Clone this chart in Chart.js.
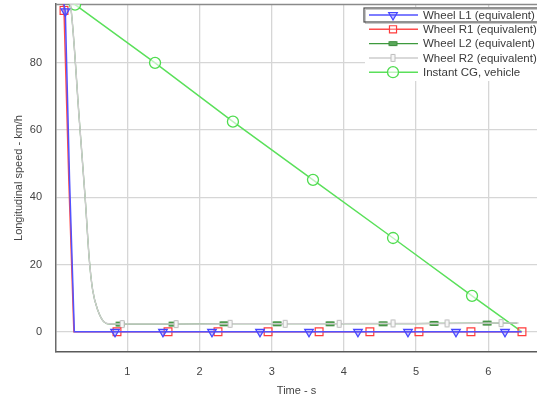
<!DOCTYPE html>
<html>
<head>
<meta charset="utf-8">
<script src="https://cdn.jsdelivr.net/npm/chart.js@4/dist/chart.umd.min.js"></script>
<style>
  html, body { margin: 0; padding: 0; background: #fff; }
  #wrap { width: 537px; height: 400px; }
</style>
</head>
<body>
<div id="wrap"><canvas id="chart" width="537" height="400"></canvas></div>
<script>
// series (time in s, speed in km/h); 1 = draw a marker on that point
const l1Time   = [0.10, 0.141, 0.20, 0.266, 0.830, 1.494, 2.173, 2.838, 3.517, 4.195, 4.888, 5.553, 6.232, 6.46];
const l1Speed  = [100, 95.3, 45, 0, 0, 0, 0, 0, 0, 0, 0, 0, 0, 0];
const l1Marker = [0, 1, 0, 0, 1, 1, 1, 1, 1, 1, 1, 1, 1, 0];

const r1Time   = [0.10, 0.123, 0.19, 0.26, 0.857, 1.564, 2.256, 2.950, 3.657, 4.360, 5.040, 5.760, 6.467];
const r1Speed  = [100, 95.6, 45, 0, 0, 0, 0, 0, 0, 0, 0, 0, 0];
const r1Marker = [0, 1, 0, 0, 1, 1, 1, 1, 1, 1, 1, 1, 1];

// L2 runs under R2 for the whole drop, only its markers show
const l2Time   = [0.16, 0.22, 0.335, 0.418, 0.474, 0.52, 0.59, 0.68, 0.77, 0.899, 1.633, 2.340, 3.075, 3.809, 4.543, 5.249, 5.984, 6.40];
const l2Speed  = [100, 96, 63, 39.2, 21.3, 12.4, 6.5, 2.9, 2.3, 2.3, 2.3, 2.4, 2.4, 2.4, 2.4, 2.5, 2.6, 2.6];
const l2Marker = [0, 0, 0, 0, 0, 0, 0, 0, 0, 1, 1, 1, 1, 1, 1, 1, 1, 0];

const r2Time   = [0.16, 0.22, 0.335, 0.418, 0.474, 0.52, 0.59, 0.68, 0.77, 0.928, 1.676, 2.424, 3.186, 3.934, 4.681, 5.429, 6.177, 6.42];
const r2Speed  = [100, 96, 63, 39.2, 21.3, 12.4, 6.5, 2.9, 2.3, 2.3, 2.3, 2.4, 2.4, 2.4, 2.5, 2.5, 2.6, 2.6];
const r2Marker = [0, 0, 0, 0, 0, 0, 0, 0, 0, 1, 1, 1, 1, 1, 1, 1, 1, 0];

const cgTime   = [0.20, 0.276, 1.384, 2.463, 3.572, 4.681, 5.775, 6.467];
const cgSpeed  = [98.5, 97.3, 80, 62.5, 45.2, 27.9, 10.7, 0];
const cgMarker = [0, 1, 1, 1, 1, 1, 1, 0];

const seriesNames = ['Wheel L1 (equivalent)', 'Wheel R1 (equivalent)', 'Wheel L2 (equivalent)',
                     'Wheel R2 (equivalent)', 'Instant CG, vehicle'];
const xTicks = [1, 2, 3, 4, 5, 6];
const yTicks = [0, 20, 40, 60, 80];

const FONT = '"Liberation Sans", Arial, sans-serif';

function toPoints(t, v) {
    return t.map(function (x, i) { return { x: x, y: v[i] }; });
}

// small bar shaped markers used by the rear/left wheel series
function barMarker(w, h, fill, stroke) {
    var c = document.createElement('canvas');
    c.width = w + 2;
    c.height = h + 2;
    var g = c.getContext('2d');
    g.fillStyle = fill;
    g.strokeStyle = stroke;
    g.lineWidth = 1;
    g.beginPath();
    g.rect(1.5, 1.5, w - 1, h - 1);
    g.fill();
    g.stroke();
    return c;
}

var l2Style = barMarker(9, 5, '#5aa85a', '#3d8c3d');
var r2Style = barMarker(5, 8, '#f6f6f6', '#bcbcbc');

function markerRadius(flags, r) {
    return function (ctx) { return flags[ctx.dataIndex] ? r : 0; };
}

var datasets = [
    {
        label: seriesNames[0], data: toPoints(l1Time, l1Speed), order: 0, tension: 0,
        borderColor: '#5252ff', borderWidth: 1.5, backgroundColor: 'rgba(90,90,255,0.35)',
        pointStyle: 'triangle', pointRotation: 180, pointRadius: markerRadius(l1Marker, 5),
        pointBorderColor: '#4646ff', pointBorderWidth: 1.2
    },
    {
        label: seriesNames[1], data: toPoints(r1Time, r1Speed), order: 1, tension: 0,
        borderColor: '#ff4d4d', borderWidth: 1.5, backgroundColor: 'rgba(255,255,255,0.3)',
        pointStyle: 'rect', pointRadius: markerRadius(r1Marker, 5.5),
        pointBorderColor: '#ff3b3b', pointBorderWidth: 1.2
    },
    {
        label: seriesNames[2], data: toPoints(l2Time, l2Speed), order: 3, cubicInterpolationMode: 'monotone',
        borderColor: '#3d9a3d', borderWidth: 1.2, backgroundColor: '#5aa85a',
        pointStyle: l2Style, pointRadius: markerRadius(l2Marker, 4)
    },
    {
        label: seriesNames[3], data: toPoints(r2Time, r2Speed), order: 2, cubicInterpolationMode: 'monotone',
        borderColor: '#cdcdcd', borderWidth: 1.5, backgroundColor: '#f6f6f6',
        pointStyle: r2Style, pointRadius: markerRadius(r2Marker, 4)
    },
    {
        label: seriesNames[4], data: toPoints(cgTime, cgSpeed), order: 4, tension: 0,
        borderColor: '#5ae05a', borderWidth: 1.5, backgroundColor: 'rgba(255,255,255,0.6)',
        pointStyle: 'circle', pointRadius: markerRadius(cgMarker, 5.5),
        pointBorderColor: '#4fdc4f', pointBorderWidth: 1.3
    }
];

// top border of the plot frame
var framePlugin = {
    id: 'frameTop',
    beforeDatasetsDraw: function (chart) {
        var a = chart.chartArea, ctx = chart.ctx;
        ctx.save();
        ctx.strokeStyle = '#8a8a8a';
        ctx.lineWidth = 1.5;
        ctx.beginPath();
        ctx.moveTo(a.left, a.top + 0.5);
        ctx.lineTo(a.right, a.top + 0.5);
        ctx.stroke();
        ctx.restore();
    }
};

// boxed legend in the top right corner
var legendPlugin = {
    id: 'boxLegend',
    afterDraw: function (chart) {
        var ctx = chart.ctx;
        var x0 = 365, y0 = 15, step = 14.3;
        ctx.save();
        ctx.fillStyle = '#fff';
        ctx.fillRect(x0, 7, 537 - x0, 74);

        // selection frame round the first entry
        ctx.strokeStyle = '#c8c8c8';
        ctx.lineWidth = 1;
        ctx.strokeRect(x0 + 0.5, 9.5, 180, 14);
        ctx.strokeStyle = '#4a4a4a';
        ctx.lineWidth = 1.2;
        ctx.strokeRect(x0 - 1, 8, 180, 14);

        ctx.font = '11.5px ' + FONT;
        ctx.textBaseline = 'middle';
        chart.data.datasets.forEach(function (ds, i) {
            var y = y0 + i * step;
            ctx.strokeStyle = ds.borderColor;
            ctx.lineWidth = ds.borderWidth;
            ctx.beginPath();
            ctx.moveTo(x0 + 4, y);
            ctx.lineTo(x0 + 53, y);
            ctx.stroke();

            ctx.fillStyle = ds.backgroundColor;
            ctx.strokeStyle = ds.pointBorderColor || ds.borderColor;
            ctx.lineWidth = ds.pointBorderWidth || 1;
            Chart.helpers.drawPoint(ctx, {
                pointStyle: ds.pointStyle,
                rotation: ds.pointRotation || 0,
                radius: i === 4 ? 5.5 : 5,
                borderWidth: ds.pointBorderWidth || 1
            }, x0 + 28, y);

            ctx.fillStyle = '#3a3a3a';
            ctx.fillText(ds.label, x0 + 58, y + 0.5);
        });
        ctx.restore();
    }
};

new Chart(document.getElementById('chart').getContext('2d'), {
    type: 'line',
    data: { datasets: datasets },
    plugins: [framePlugin, legendPlugin],
    options: {
        responsive: false,
        animation: false,
        events: [],
        layout: { autoPadding: false, padding: { top: 4, right: 0, left: 0, bottom: 0 } },
        plugins: { legend: { display: false }, tooltip: { enabled: false } },
        scales: {
            x: {
                type: 'linear',
                min: 0.012,
                max: 6.675,
                afterBuildTicks: function (axis) { axis.ticks = xTicks.map(function (v) { return { value: v }; }); },
                afterFit: function (axis) {
                    axis.height = 48;
                    axis.paddingLeft = 0;
                    axis.paddingRight = 0;
                },
                grid: { color: '#d6d6d6', lineWidth: 1.3, drawTicks: false },
                border: { display: true, color: '#5a5a5a', width: 1.5 },
                ticks: { padding: 13, color: '#444', font: { family: FONT, size: 11 } },
                title: {
                    display: true, text: 'Time - s', color: '#444', padding: { top: 0, bottom: 2 },
                    font: { family: FONT, size: 11 }
                }
            },
            y: {
                min: -6,
                max: 97.5,
                afterBuildTicks: function (axis) { axis.ticks = yTicks.map(function (v) { return { value: v }; }); },
                afterFit: function (axis) {
                    axis.width = 56;
                    axis.paddingTop = 0;
                    axis.paddingBottom = 0;
                },
                grid: { color: '#d6d6d6', lineWidth: 1.3, drawTicks: false },
                border: { display: true, color: '#6a6a6a', width: 1.5 },
                ticks: { padding: 14, color: '#444', font: { family: FONT, size: 11 } },
                title: {
                    display: true, text: 'Longitudinal speed - km/h', color: '#444', padding: { top: 12, bottom: 0 },
                    font: { family: FONT, size: 11 }
                }
            }
        }
    }
});
</script>
</body>
</html>
